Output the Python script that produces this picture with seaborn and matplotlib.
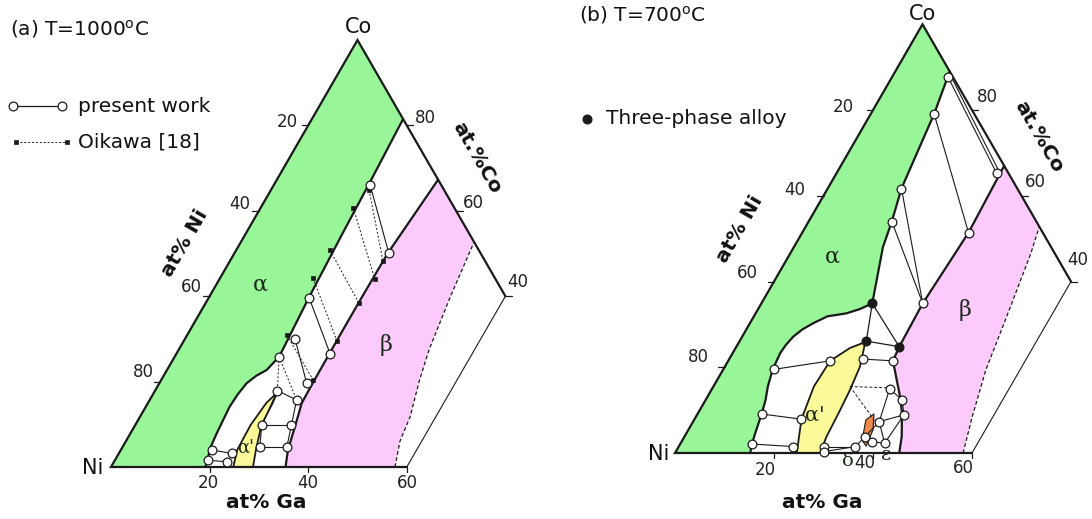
import numpy as np
import pandas as pd
import matplotlib
matplotlib.use("Agg")
import matplotlib.pyplot as plt
import seaborn as sns
from matplotlib.transforms import Affine2D

sns.set_theme(style="white")
plt.rcParams['font.family'] = ['DejaVu Sans']

# ---------------- data: compositions (at% Ga, at% Co) ----------------
# Panel (a) T=1000 C
a_alpha_ga = [19.1, 19.0, 17.9, 17.5, 17.0, 17.2, 17.7, 18.8, 20.2, 21.2, 20.3, 19.6, 19.2, 18.5]
a_alpha_co = [0.0, 0.9, 4.4, 7.9, 14.1, 17.0, 19.6, 21.4, 22.7, 25.8, 39.6, 55.0, 66.1, 81.5]
a_alphap_ga = [24.8, 23.6, 23.4, 24.0, 25.0, 25.3, 25.6, 27.4, 28.8]
a_alphap_co = [0.0, 4.0, 9.8, 15.0, 17.4, 15.0, 9.8, 4.0, 0.0]
a_beta_left_ga = [32.7, 31.1, 31.0, 31.0, 31.1, 31.2, 32.6, 33.9, 35.4]
a_beta_left_co = [67.3, 50.0, 40.0, 30.0, 19.7, 15.0, 9.4, 4.0, 0.0]
a_beta_right_ga = [57.6, 55.6, 54.8, 52.5, 50.8, 48.9, 47.3]
a_beta_right_co = [0.0, 6.0, 11.7, 20.0, 27.4, 39.8, 52.7]
a_pw_ga = [19.5, 31.3, 20.4, 31.2, 22.4, 29.9, 21.2, 24.8, 29.8, 25.7, 31.7, 27.8, 33.3, 18.4, 18.9, 22.9, 22.9]
a_pw_co = [66.1, 50.1, 39.6, 26.5, 29.9, 19.6, 25.8, 17.9, 15.7, 9.8, 9.8, 4.75, 4.75, 4.0, 1.6, 3.2, 1.2]
a_pw_ties = [(0, 1), (2, 3), (4, 5), (7, 8), (9, 10), (11, 12), (13, 15), (14, 16),
             (7, 9), (9, 11), (8, 10), (10, 12)]
a_pw_dashed = [(6, 7), (6, 8)]
a_ok_ga = [19.9, 18.8, 19.0, 18.8, 20.2, 31.0, 31.5, 31.1, 31.1, 30.8]
a_ok_co = [64.9, 60.7, 50.8, 44.3, 30.9, 48.3, 44.0, 38.4, 29.5, 20.4]
a_ok_ties = [(0, 5), (1, 6), (2, 7), (3, 8), (4, 9)]

# Panel (b) T=700 C
b_alpha_ga = [15.2, 14.5, 13.9, 12.95, 12.1, 11.0, 10.0, 9.6, 9.8, 10.3, 11.3, 12.8, 14.9, 17.0, 18.4,
              20.6, 22.4, 18.0, 16.8, 14.9, 12.8, 11.0]
b_alpha_co = [0.0, 2.1, 4.6, 9.1, 12.4, 15.5, 19.5, 23.3, 25.2, 27.1, 28.8, 30.3, 31.9, 32.3, 32.6,
              33.6, 34.9, 48.0, 54.0, 61.7, 79.1, 89.0]
b_alphap_ga = [24.6, 21.6, 20.3, 20.6, 23.1, 25.5, 27.3, 28.0, 28.4, 28.7, 29.3]
b_alphap_co = [0.0, 7.9, 15.5, 21.5, 24.5, 25.9, 20.1, 14.7, 9.3, 3.8, 0.0]
b_beta_left_ga = [33.0, 33.6, 32.6, 32.9, 33.3, 36.3, 39.0, 41.2, 43.9, 45.3]
b_beta_left_co = [67.0, 51.4, 34.9, 24.8, 21.5, 17.0, 13.0, 9.3, 3.8, 0.0]
b_beta_right_ga = [58.2, 55.8, 53.1, 51.1, 48.6, 47.2]
b_beta_right_co = [0.0, 8.5, 19.4, 31.8, 46.6, 52.8]
b_delta_ga = [36.3, 34.7, 35.65, 37.3, 37.8]
b_delta_co = [3.0, 7.7, 9.1, 5.4, 1.6]
b_pw_ga = [11.4, 32.4, 12.8, 33.6, 14.9, 16.8, 32.6, 10.2, 20.6, 12.95, 21.5, 14.45, 23.1, 27.1, 33.3,
           29.3, 29.85, 35.7, 38.5, 41.2, 37.6, 41.8, 39.7, 35.9, 36.5]
b_pw_co = [87.6, 65.2, 79.1, 51.4, 61.7, 54.0, 34.9, 19.5, 21.5, 9.1, 7.9, 2.1, 1.5, 21.9, 21.5,
           1.5, 0.3, 1.5, 2.6, 2.3, 7.3, 8.9, 12.4, 14.9, 3.8]
b_pw_ties = [(0, 1), (2, 3), (4, 6), (5, 6), (7, 8), (9, 10), (11, 12), (13, 14),
             (15, 17), (16, 17), (17, 24), (24, 18), (18, 19), (20, 19), (20, 23), (20, 21),
             (22, 21), (23, 22), (24, 20), (21, 19)]
b_dash_ga = [27.6, 35.8, 37.3]
b_dash_co = [15.5, 15.2, 6.9]
b_three_ga = [22.4, 25.6, 32.9]
b_three_co = [34.9, 26.1, 24.8]

# tick labels
tick_vals = [20, 40, 60, 80]

# ---------------- figure ----------------
fig = plt.figure(figsize=(10.92, 5.19), dpi=100)
ax = fig.add_axes([0, 0, 1, 1])
ax.set_xlim(0, 1092)
ax.set_ylim(519, 0)
ax.axis('off')

def tern(x0, y0, L):
    m = np.array([[L / 100, L / 200, x0], [0, -0.8660254 * L / 100, y0], [0, 0, 1]])
    return Affine2D(m) + ax.transData

GREEN = '#98f598'
PINK = '#fdcbfb'
YELLOW = '#fafa98'
ORANGE = '#f08a4a'

def panel(T, alpha, alphap, beta_l, beta_r):
    ag, ac = alpha
    pg = [0] + list(ag) + [0]
    pc = [0] + list(ac) + [100]
    ax.fill(pg, pc, color=GREEN, transform=T, zorder=1, lw=0)
    ax.plot(ag, ac, color='k', lw=1.6, transform=T, zorder=3)
    yg, yc = alphap
    ax.fill(yg, yc, color=YELLOW, transform=T, zorder=1, lw=0)
    ax.plot(yg, yc, color='k', lw=1.3, transform=T, zorder=3)
    lg, lc = beta_l
    rg, rc = beta_r
    bg = list(lg) + list(rg)
    bc = list(lc) + list(rc)
    ax.fill(bg, bc, color=PINK, transform=T, zorder=1, lw=0)
    ax.plot(lg, lc, color='k', lw=1.6, transform=T, zorder=3)
    ax.plot(rg, rc, color='k', lw=0.9, ls=(0, (3, 2)), transform=T, zorder=3)
    ax.plot([60, 0, 0, 60], [40, 100, 0, 0], color='k', lw=1.6, transform=T, zorder=4,
            solid_joinstyle='miter')
    ax.plot([60, 60], [0, 40], color='k', lw=0.8, transform=T, zorder=4)
    for v in tick_vals:
        ax.plot([0, -1.3], [100 - v, 100 - v], color='k', lw=0.9, transform=T, zorder=4)
    for v in [80, 60, 40]:
        ax.plot([100 - v, 100 - v + 1.3], [v, v], color='k', lw=0.9, transform=T, zorder=4)
    for v in [20, 40, 60]:
        ax.plot([v, v + 0.6], [0, -1.2], color='k', lw=0.9, transform=T, zorder=4)

def ties(T, g, c, pairs, **kw):
    for i, j in pairs:
        ax.plot([g[i], g[j]], [c[i], c[j]], transform=T, **kw)

def circles(T, g, c, marker='o', s=40, fc='white', ec='k', lw=0.9, z=6):
    df = pd.DataFrame({'ga': g, 'co': c})
    sns.scatterplot(data=df, x='ga', y='co', ax=ax, marker=marker, s=s, color=fc,
                    edgecolor=ec, linewidth=lw, transform=T, zorder=z, legend=False)

# ---- panel (a)
Ta = tern(111, 467, 493)
panel(Ta, (a_alpha_ga, a_alpha_co), (a_alphap_ga, a_alphap_co),
      (a_beta_left_ga, a_beta_left_co), (a_beta_right_ga, a_beta_right_co))
ties(Ta, a_pw_ga, a_pw_co, a_pw_ties, color='k', lw=0.8, zorder=4)
ties(Ta, a_pw_ga, a_pw_co, a_pw_dashed, color='k', lw=0.7, ls=(0, (2, 2)), zorder=4)
ties(Ta, a_ok_ga, a_ok_co, a_ok_ties, color='k', lw=0.7, ls=(0, (2, 2)), zorder=4)
circles(Ta, a_ok_ga, a_ok_co, marker='s', s=12, fc='k', ec='k', lw=0.5, z=5)
circles(Ta, a_pw_ga, a_pw_co)

# ---- panel (b)
Tb = tern(675, 453, 495)
panel(Tb, (b_alpha_ga, b_alpha_co), (b_alphap_ga, b_alphap_co),
      (b_beta_left_ga, b_beta_left_co), (b_beta_right_ga, b_beta_right_co))
ax.fill(b_delta_ga, b_delta_co, color=ORANGE, transform=Tb, zorder=2, lw=0)
ax.plot(b_delta_ga + b_delta_ga[:1], b_delta_co + b_delta_co[:1], color='k', lw=0.8, transform=Tb, zorder=3)
ties(Tb, b_pw_ga, b_pw_co, b_pw_ties, color='k', lw=0.8, zorder=4)
ax.plot([11.8, 32.8], [87.9, 65.5], color='k', lw=0.8, transform=Tb, zorder=4)
ties(Tb, b_dash_ga, b_dash_co, [(0, 1), (0, 2)], color='k', lw=0.7, ls=(0, (3, 2)), zorder=4)
ties(Tb, b_three_ga, b_three_co, [(0, 1), (0, 2), (1, 2)], color='k', lw=0.9, zorder=4)
circles(Tb, b_pw_ga, b_pw_co)
circles(Tb, b_three_ga, b_three_co, s=40, fc='k', ec='k', z=7)

# ---------------- text ----------------
txt = dict(color='#111111', ha='center', va='center')
ax.text(10, 29, '(a) T=1000$^{\\rm o}$C', fontsize=14.5, ha='left', va='center', color='#111111')
ax.text(579, 15, '(b) T=700$^{\\rm o}$C', fontsize=14.5, ha='left', va='center', color='#111111')
ax.text(359, 27, 'Co', fontsize=15, **txt)
ax.text(923, 14, 'Co', fontsize=15, **txt)
ax.text(93, 468, 'Ni', fontsize=15, **txt)
ax.text(659, 454, 'Ni', fontsize=15, **txt)
ax.text(266, 503, 'at% Ga', fontsize=14.5, fontweight='bold', **txt)
ax.text(822, 503, 'at% Ga', fontsize=14.5, fontweight='bold', **txt)
ax.text(185, 243, 'at% Ni', fontsize=14.5, fontweight='bold', rotation=60, **txt)
ax.text(740, 229, 'at% Ni', fontsize=14.5, fontweight='bold', rotation=60, **txt)
ax.text(477, 158, 'at.%Co', fontsize=14.5, fontweight='bold', rotation=-60, **txt)
ax.text(1039, 137, 'at.%Co', fontsize=14.5, fontweight='bold', rotation=-60, **txt)

tk = dict(fontsize=12, color='#222222', ha='center', va='center')
for (x, y, s) in [(287, 122, '20'), (240, 204, '40'), (191, 287, '60'), (143, 372, '80'),
                  (425, 118, '80'), (473, 203, '60'), (518, 282, '40'),
                  (208, 483, '20'), (308, 483, '40'), (407, 483, '60'),
                  (843, 107, '20'), (795, 190, '40'), (747, 273, '60'), (698, 357, '80'),
                  (987, 97, '80'), (1035, 182, '60'), (1078, 260, '40'),
                  (765, 470, '20'), (865, 463, '40'), (963, 468, '60')]:
    ax.text(x, y, s, **tk)
gk = dict(family='DejaVu Serif', color='#1a2a1a', ha='center', va='center')
ax.text(260, 285, 'α', fontsize=16, **gk)
ax.text(386, 345, 'β', fontsize=16, **gk)
ax.text(246, 448, "α'", fontsize=13, **gk)
ax.text(832, 257, 'α', fontsize=16, **gk)
ax.text(965, 310, 'β', fontsize=16, **gk)
ax.text(815, 415, "α'", fontsize=15, **gk)
ax.text(848, 461, 'δ', fontsize=14, **gk)
ax.text(886, 455, 'ε', fontsize=14, **gk)

# legends
ax.plot([13, 62], [106, 106], color='k', lw=0.9, zorder=4)
circles(ax.transData, [13, 62], [106, 106], s=40)
ax.text(78, 106, 'present work', fontsize=14.5, ha='left', va='center', color='#111111')
ax.plot([16, 67], [142, 142], color='k', lw=0.7, ls=(0, (2, 2)), zorder=4)
circles(ax.transData, [16, 67], [142, 142], marker='s', s=12, fc='k', ec='k', lw=0.5)
ax.text(78, 142, 'Oikawa [18]', fontsize=14.5, ha='left', va='center', color='#111111')
circles(ax.transData, [587], [119], s=40, fc='k', ec='k')
ax.text(606, 119, 'Three-phase alloy', fontsize=14.5, ha='left', va='center', color='#111111')

ax.set_xlim(0, 1092)
ax.set_ylim(519, 0)
fig.savefig('out.png', dpi=100)
